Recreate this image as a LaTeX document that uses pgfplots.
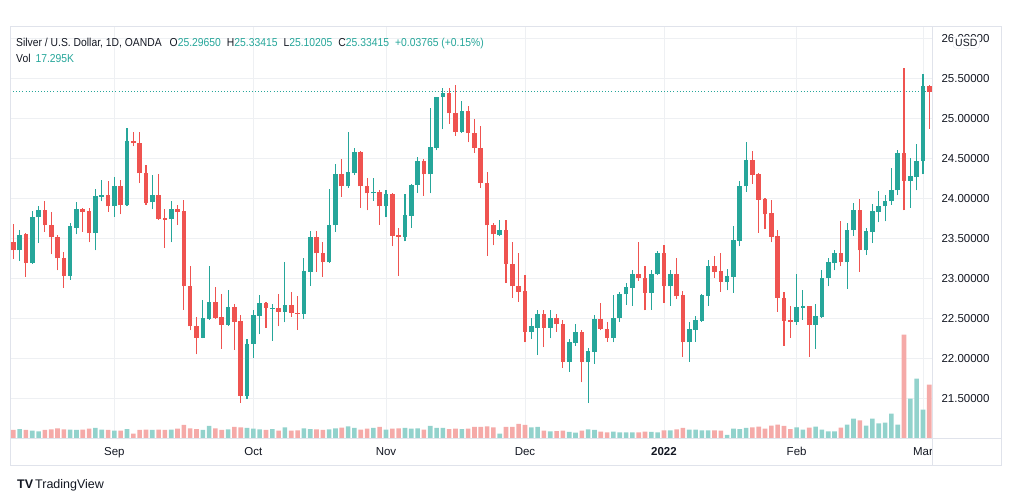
\documentclass[border=0pt]{standalone}
\usepackage{pgfplots}
\pgfplotsset{compat=1.18}
\usepackage{pgfplotstable}
\usepackage{fontspec}
\setmainfont{Liberation Sans}
\newfontfamily\hdrfont{Liberation Sans}[FakeStretch=0.9]
\definecolor{tvg}{HTML}{26A69A}
\definecolor{tvr}{HTML}{EF5350}
\definecolor{vg}{HTML}{92D2CC}
\definecolor{vr}{HTML}{F5AAA8}
\definecolor{txt}{HTML}{131722}
\definecolor{gridc}{HTML}{EEF0F3}
\definecolor{bord}{HTML}{E0E3EB}

% i = bar index, o h l c = price, d = 1 up / 0 down, v = volume (K)
\pgfplotstableread{
i o h l c d v
1 23.45 23.68 23.24 23.35 0 2.60
2 23.35 23.60 23.22 23.54 1 2.92
3 23.55 23.56 23.02 23.19 0 2.60
4 23.19 23.84 23.18 23.76 1 2.37
5 23.76 23.90 23.44 23.85 1 2.18
6 23.85 23.97 23.58 23.66 0 2.60
7 23.67 23.83 23.30 23.51 0 2.83
8 23.52 23.54 23.10 23.25 0 3.15
9 23.25 23.33 22.88 23.03 0 2.83
10 23.03 23.69 22.98 23.65 1 2.70
11 23.63 23.95 23.55 23.87 1 2.60
12 23.87 23.88 23.58 23.83 0 2.70
13 23.84 23.88 23.45 23.56 0 3.02
14 23.56 24.11 23.35 24.03 1 3.25
15 24.02 24.23 23.96 24.04 1 2.70
16 24.04 24.22 23.83 23.90 0 2.60
17 23.90 24.26 23.77 24.15 1 2.37
18 24.15 24.23 23.80 23.91 0 2.37
19 23.91 24.88 23.90 24.72 1 2.92
20 24.72 24.83 24.65 24.69 0 1.40
21 24.69 24.83 24.19 24.31 0 2.60
22 24.31 24.42 23.92 23.94 0 2.70
23 23.95 24.29 23.86 24.04 1 2.60
24 24.04 24.30 23.73 23.74 0 2.70
25 23.75 23.86 23.38 23.73 0 2.60
26 23.74 23.97 23.45 23.87 1 2.70
27 23.87 23.92 23.67 23.83 0 3.02
28 23.84 23.98 22.61 22.90 0 4.22
29 22.90 23.15 22.35 22.40 0 3.15
30 22.40 22.52 22.05 22.26 0 2.92
31 22.26 22.73 22.25 22.50 1 2.60
32 22.49 23.15 22.48 22.70 1 3.90
33 22.70 22.89 22.49 22.51 0 3.15
34 22.52 22.80 22.12 22.42 0 2.60
35 22.42 22.85 22.41 22.64 1 2.83
36 22.64 22.68 22.11 22.46 0 3.57
37 22.47 22.54 21.44 21.53 0 3.47
38 21.53 22.24 21.49 22.18 1 3.25
39 22.18 22.60 22.00 22.54 1 3.02
40 22.53 22.79 22.30 22.69 1 2.83
41 22.69 22.71 22.38 22.63 0 2.60
42 22.62 22.68 22.22 22.63 1 2.92
43 22.63 22.81 22.40 22.58 0 2.37
44 22.58 23.20 22.45 22.67 1 3.47
45 22.67 22.83 22.52 22.57 0 2.37
46 22.57 22.78 22.36 22.56 0 2.50
47 22.56 23.25 22.49 23.09 1 3.15
48 23.08 23.59 22.91 23.51 1 2.92
49 23.51 23.59 23.08 23.31 0 2.83
50 23.31 23.45 23.02 23.20 0 2.60
51 23.20 24.12 23.19 23.67 1 2.83
52 23.66 24.43 23.58 24.30 1 3.15
53 24.30 24.49 24.02 24.15 0 3.35
54 24.15 24.83 24.13 24.33 1 3.80
55 24.31 24.63 24.29 24.58 1 3.25
56 24.58 24.59 23.88 24.15 0 2.70
57 24.15 24.25 23.85 24.06 0 3.02
58 24.06 24.25 23.97 24.08 1 3.25
59 24.08 24.10 23.67 23.90 0 3.57
60 23.90 24.10 23.76 24.05 1 2.70
61 24.05 24.06 23.40 23.53 0 3.02
62 23.54 23.63 23.03 23.52 0 3.15
63 23.52 24.05 23.46 23.79 1 3.25
64 23.78 24.18 23.63 24.17 1 3.02
65 24.17 24.51 24.07 24.47 1 3.15
66 24.47 24.49 24.03 24.30 0 2.70
67 24.30 25.13 24.06 24.64 1 3.90
68 24.63 25.27 24.60 25.26 1 3.25
69 25.26 25.38 24.86 25.32 1 3.25
70 25.32 25.38 24.93 25.06 0 2.92
71 25.06 25.42 24.78 24.83 0 3.02
72 24.83 25.22 24.82 25.09 1 2.92
73 25.09 25.15 24.70 24.81 0 3.02
74 24.81 24.99 24.57 24.63 0 3.57
75 24.63 24.90 24.13 24.19 0 3.57
76 24.19 24.33 23.28 23.66 0 3.80
77 23.66 23.69 23.41 23.55 0 3.47
78 23.54 23.73 23.53 23.60 1 1.40
79 23.60 23.73 22.94 23.18 0 3.57
80 23.18 23.45 22.76 22.90 0 3.57
81 22.90 23.32 22.71 22.83 0 4.55
82 22.84 23.04 22.20 22.33 0 4.22
83 22.33 22.51 22.24 22.40 1 3.47
84 22.38 22.60 22.04 22.55 1 3.57
85 22.55 22.60 22.14 22.38 0 2.37
86 22.38 22.60 22.25 22.51 1 2.18
87 22.51 22.56 22.33 22.43 0 2.27
88 22.43 22.48 21.88 21.96 0 2.37
89 21.96 22.24 21.83 22.20 1 1.95
90 22.19 22.43 22.16 22.33 1 1.72
91 22.33 22.35 21.70 21.95 0 2.37
92 21.95 22.13 21.44 22.09 1 2.83
93 22.08 22.54 21.93 22.49 1 2.60
94 22.49 22.69 22.35 22.37 0 2.05
95 22.37 22.45 22.21 22.26 0 1.85
96 22.26 22.79 22.20 22.51 1 2.05
97 22.51 22.83 22.46 22.80 1 1.85
98 22.80 22.94 22.67 22.89 1 1.85
99 22.88 23.11 22.66 23.06 1 1.85
100 23.06 23.45 22.97 23.01 0 1.85
101 23.01 23.16 22.60 22.82 0 2.05
102 22.82 23.11 22.61 23.05 1 1.95
103 23.05 23.34 23.04 23.32 1 1.85
104 23.32 23.42 22.69 22.90 0 2.50
105 22.90 23.10 22.66 23.05 1 2.50
106 23.05 23.26 22.74 22.78 0 2.83
107 22.79 22.84 22.02 22.20 0 3.25
108 22.20 22.45 21.96 22.37 1 2.70
109 22.36 22.53 22.21 22.48 1 2.70
110 22.47 22.81 22.46 22.79 1 2.50
111 22.78 23.23 22.66 23.15 1 2.50
112 23.15 23.28 23.01 23.08 0 2.50
113 23.09 23.32 22.83 22.96 0 2.37
114 22.96 23.12 22.85 23.03 1 0.98
115 23.02 23.65 22.82 23.48 1 3.02
116 23.47 24.22 23.40 24.15 1 2.92
117 24.15 24.70 24.08 24.48 1 3.25
118 24.48 24.59 24.18 24.29 0 3.47
119 24.30 24.32 23.57 23.98 0 3.67
120 23.99 24.00 23.61 23.80 0 3.02
121 23.81 23.98 23.45 23.52 0 4.00
122 23.53 23.60 22.58 22.76 0 4.32
123 22.76 22.83 22.16 22.47 0 3.90
124 22.48 22.65 22.26 22.46 0 2.92
125 22.46 23.05 22.42 22.64 1 3.47
126 22.63 22.86 22.48 22.65 1 2.70
127 22.65 22.66 22.02 22.42 0 3.35
128 22.42 22.68 22.12 22.53 1 3.67
129 22.52 23.10 22.51 23.01 1 2.70
130 23.01 23.26 22.90 23.20 1 2.18
131 23.19 23.35 23.10 23.31 1 2.18
132 23.31 23.72 23.15 23.20 0 3.35
133 23.20 23.69 22.87 23.60 1 4.32
134 23.60 23.94 23.53 23.85 1 6.27
135 23.85 23.99 23.08 23.35 0 5.75
136 23.35 23.63 23.29 23.59 1 4.00
137 23.58 23.93 23.44 23.84 1 6.27
138 23.83 24.09 23.70 23.90 1 4.78
139 23.90 24.04 23.71 23.97 1 4.97
140 23.96 24.38 23.92 24.10 1 7.90
141 24.10 24.60 24.04 24.56 1 4.32
142 24.56 25.63 23.85 24.22 0 33.57
143 24.22 24.50 23.88 24.28 1 12.77
144 24.27 24.68 24.10 24.47 1 19.27
145 24.46 25.55 24.30 25.40 1 9.20
146 25.40 25.41 24.87 25.33 0 17.30
}\candles

\begin{document}
\begin{tikzpicture}[x=1pt,y=1pt]
\pgfplotsset{tvaxis/.style={scale only axis, width=922pt, height=411pt,
  at={(10pt,63pt)}, anchor=south west, xmin=0.478, xmax=146.43}}

% ---- axis 1: price grid and tick labels
\begin{axis}[tvaxis, ymin=21.004, ymax=26.141,
  axis line style={draw=none}, tick style={draw=none},
  ytick={21.5,22,...,26}, ytick pos=right, yticklabel pos=right,
  xtick={17,39,60,82,104,125,145},
  xticklabels={Sep,Oct,Nov,Dec,\textbf{2022},Feb,Mar},
  xtick pos=bottom,
  grid=major, major grid style={gridc, line width=0.8pt},
  /pgf/number format/assume math mode=true,
  yticklabel style={/pgf/number format/.cd, fixed, fixed zerofill, precision=5,
    /tikz/.cd, anchor=base west, xshift=6pt, yshift=-4.1pt,
    font=\fontsize{11.5}{13}\selectfont, text=txt},
  xticklabel style={anchor=base, yshift=-17pt,
    font=\fontsize{11.5}{13}\selectfont, text=txt},
]
\addplot[draw=none, forget plot] coordinates {(1,22) (2,22)};
\end{axis}

% ---- axis 2: volume
\begin{axis}[tvaxis, ymin=0, ymax=133.37, hide axis]
\addplot[ybar, bar width=4.6pt, bar shift=0pt, fill=vg, draw=none,
  restrict expr to domain={\thisrow{d}}{0.5:1.5}]
  table[x=i, y=v]{\candles};
\addplot[ybar, bar width=4.6pt, bar shift=0pt, fill=vr, draw=none,
  restrict expr to domain={\thisrow{d}}{-0.5:0.5}]
  table[x=i, y=v]{\candles};
\end{axis}

% ---- axis 3: candles
\begin{axis}[tvaxis, ymin=21.004, ymax=26.141, hide axis]
% last price line
\addplot[tvg, line width=0.8pt, dash pattern=on 0.9pt off 2.2pt]
  coordinates {(0.478,25.334) (146.43,25.334)};
% wicks
\addplot[draw=none, mark=none,
  restrict expr to domain={\thisrow{d}}{0.5:1.5},
  error bars/.cd, y dir=plus, y explicit, error mark=none,
  error bar style={draw=tvg, line width=1.1pt}]
  table[x=i, y=l, y error expr={\thisrow{h}-\thisrow{l}}]{\candles};
\addplot[draw=none, mark=none,
  restrict expr to domain={\thisrow{d}}{-0.5:0.5},
  error bars/.cd, y dir=plus, y explicit, error mark=none,
  error bar style={draw=tvr, line width=1.1pt}]
  table[x=i, y=l, y error expr={\thisrow{h}-\thisrow{l}}]{\candles};
% bodies
\addplot[draw=none, mark=none,
  restrict expr to domain={\thisrow{d}}{0.5:1.5},
  error bars/.cd, y dir=plus, y explicit, error mark=none,
  error bar style={draw=tvg, line width=4.6pt}]
  table[x=i, y=o, y error expr={max(\thisrow{c}-\thisrow{o},0.012)}]{\candles};
\addplot[draw=none, mark=none,
  restrict expr to domain={\thisrow{d}}{-0.5:0.5},
  error bars/.cd, y dir=plus, y explicit, error mark=none,
  error bar style={draw=tvr, line width=4.6pt}]
  table[x=i, y=c, y error expr={max(\thisrow{o}-\thisrow{c},0.012)}]{\candles};
\end{axis}

% ---- frame
\fill[white] (932.5,36.5) rectangle (1000.5,62.5);
\draw[bord, line width=0.8pt] (10,36) rectangle (1001.5,474.3);
\draw[bord, line width=0.8pt] (10,63) -- (1001.5,63);
\draw[bord, line width=0.8pt] (932.3,36) -- (932.3,474.3);

% ---- USD box
\node[draw=bord, fill=white, rounded corners=2.5pt, inner sep=2pt, text=txt,
  font=\fontsize{10.5}{12}\selectfont] at (966.3,458.5) {USD};

% ---- header
\node[anchor=base west, inner sep=0pt, text=txt,
  font=\hdrfont\fontsize{11.5}{13}\selectfont] at (16,454.7)
  {Silver / U.S. Dollar, 1D, OANDA\hspace{8pt}O{\color{tvg}25.29650}\hspace{6pt}H{\color{tvg}25.33415}\hspace{6pt}L{\color{tvg}25.10205}\hspace{6pt}C{\color{tvg}25.33415}\hspace{6pt}{\color{tvg}+0.03765 (+0.15\%)}};
\node[anchor=base west, inner sep=0pt, text=txt,
  font=\hdrfont\fontsize{11.5}{13}\selectfont] at (16,438)
  {Vol\hspace{5pt}{\color{tvg}17.295K}};

% ---- footer
\node[anchor=base west, inner sep=0pt, text=txt,
  font=\fontsize{12.5}{14}\selectfont] at (17,12.5)
  {\textbf{TV}\hspace{2pt}TradingView};

\pgfresetboundingbox
\useasboundingbox (0,0) rectangle (1012,501);
\end{tikzpicture}
\end{document}
